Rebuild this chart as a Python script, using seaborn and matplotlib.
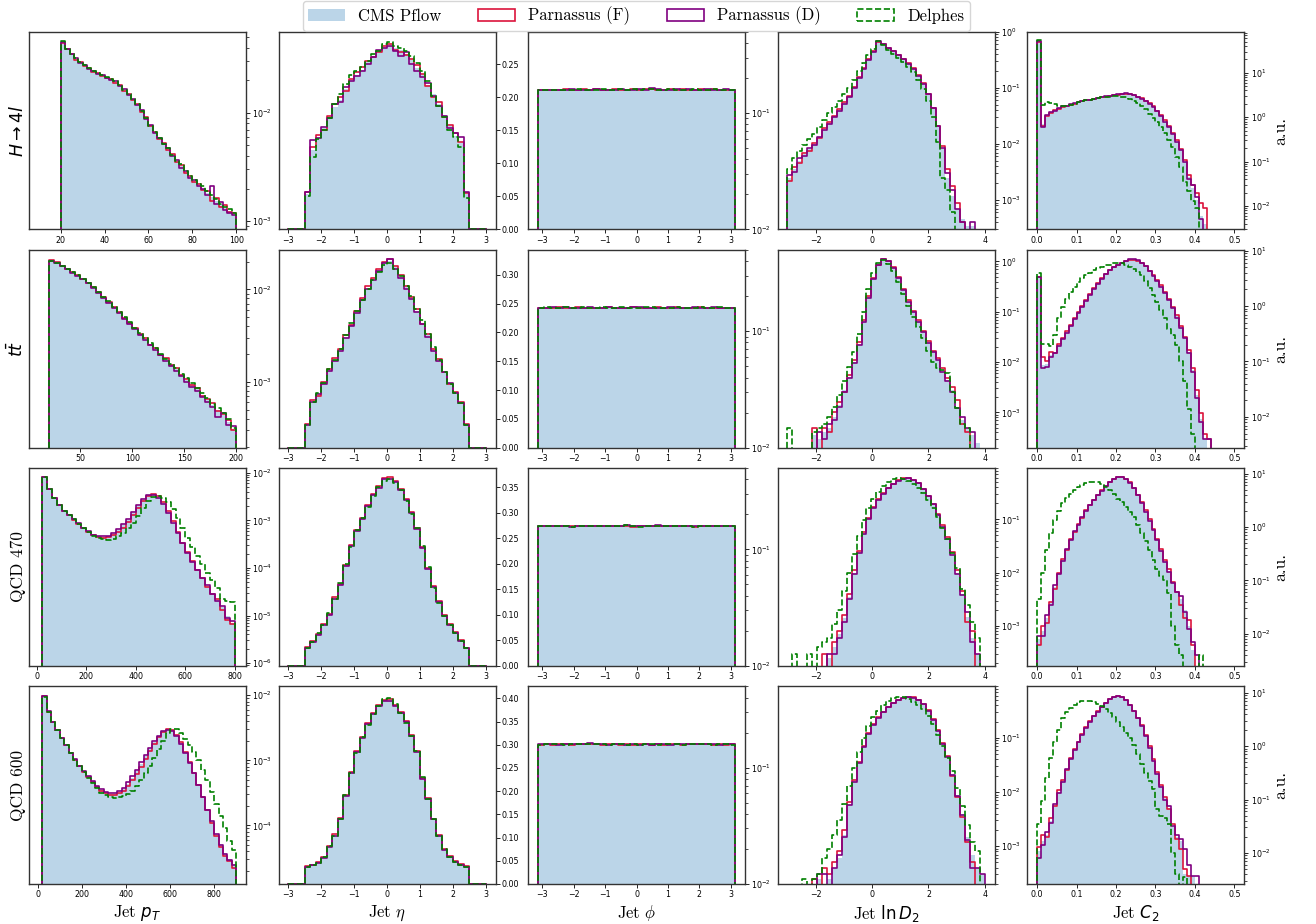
import numpy as np
import matplotlib
matplotlib.use("Agg")
import matplotlib.pyplot as plt
import seaborn as sns
from matplotlib.patches import Patch

# ---------------- data (bin heights) ----------------
samples = ["h4l", "ttbar", "qcd470", "qcd600"]
row_labels = [r"$H \to 4l$", r"$t\bar{t}$", "QCD 470", "QCD 600"]
legend_labels = ["CMS Pflow", "Parnassus (F)", "Parnassus (D)", "Delphes"]

# jet pT
pt_bin_start = [20, 20, 20, 20]
pt_bin_width = [2, 5, 20, 20]

pt_h4l_cms = [4.5e-2, 3.9e-2, 3.45e-2, 3.15e-2, 2.92e-2, 2.75e-2, 2.6e-2, 2.45e-2, 2.33e-2, 2.22e-2,
              2.12e-2, 2.03e-2, 1.93e-2, 1.8e-2, 1.63e-2, 1.47e-2, 1.33e-2, 1.18e-2, 1.03e-2, 8.9e-3,
              7.6e-3, 6.6e-3, 5.8e-3, 5.2e-3, 4.6e-3, 4.1e-3, 3.6e-3, 3.2e-3, 2.85e-3, 2.55e-3,
              2.35e-3, 2.15e-3, 1.98e-3, 1.82e-3, 1.67e-3, 1.54e-3, 1.43e-3, 1.33e-3, 1.25e-3, 1.17e-3]
pt_h4l_parF = [4.4e-2, 3.9e-2, 3.5e-2, 3.1e-2, 2.95e-2, 2.7e-2, 2.6e-2, 2.4e-2, 2.35e-2, 2.2e-2,
               2.1e-2, 2.05e-2, 1.9e-2, 1.82e-2, 1.6e-2, 1.5e-2, 1.3e-2, 1.2e-2, 1.02e-2, 9.1e-3,
               7.5e-3, 6.7e-3, 5.7e-3, 5.3e-3, 4.5e-3, 4.2e-3, 3.5e-3, 3.3e-3, 2.8e-3, 2.6e-3,
               2.3e-3, 2.2e-3, 1.95e-3, 1.9e-3, 1.55e-3, 1.62e-3, 1.35e-3, 1.4e-3, 1.22e-3, 1.2e-3]
pt_h4l_parD = [4.5e-2, 3.85e-2, 3.45e-2, 3.2e-2, 2.9e-2, 2.75e-2, 2.55e-2, 2.45e-2, 2.3e-2, 2.25e-2,
               2.1e-2, 2.0e-2, 1.95e-2, 1.78e-2, 1.65e-2, 1.45e-2, 1.35e-2, 1.17e-2, 1.05e-2, 8.7e-3,
               7.7e-3, 6.5e-3, 5.9e-3, 5.1e-3, 4.7e-3, 4.0e-3, 3.7e-3, 3.1e-3, 2.9e-3, 2.5e-3,
               2.4e-3, 2.1e-3, 2.0e-3, 1.75e-3, 2.1e-3, 1.45e-3, 1.5e-3, 1.28e-3, 1.2e-3, 1.15e-3]
pt_h4l_delphes = [4.6e-2, 3.9e-2, 3.45e-2, 3.2e-2, 2.95e-2, 2.75e-2, 2.6e-2, 2.45e-2, 2.35e-2, 2.22e-2,
                  2.12e-2, 2.03e-2, 1.95e-2, 1.82e-2, 1.63e-2, 1.48e-2, 1.33e-2, 1.2e-2, 1.04e-2, 9.0e-3,
                  7.6e-3, 6.7e-3, 5.9e-3, 5.2e-3, 4.7e-3, 4.1e-3, 3.6e-3, 3.35e-3, 2.9e-3, 2.6e-3,
                  2.4e-3, 2.2e-3, 2.1e-3, 1.9e-3, 1.75e-3, 1.6e-3, 1.45e-3, 1.35e-3, 1.3e-3, 1.2e-3]

pt_ttbar_cms = [2.05e-2, 1.95e-2, 1.8e-2, 1.66e-2, 1.53e-2, 1.42e-2, 1.3e-2, 1.17e-2, 1.05e-2, 9.3e-3,
                8.2e-3, 7.3e-3, 6.4e-3, 5.6e-3, 4.9e-3, 4.3e-3, 3.75e-3, 3.3e-3, 2.9e-3, 2.55e-3,
                2.25e-3, 1.98e-3, 1.75e-3, 1.55e-3, 1.37e-3, 1.2e-3, 1.06e-3, 9.4e-4, 8.3e-4, 7.3e-4,
                6.4e-4, 5.6e-4, 5.0e-4, 4.4e-4, 3.7e-4, 3.1e-4]
pt_ttbar_parF = [2.07e-2, 1.96e-2, 1.81e-2, 1.67e-2, 1.54e-2, 1.42e-2, 1.31e-2, 1.18e-2, 1.06e-2, 9.4e-3,
                 8.3e-3, 7.3e-3, 6.5e-3, 5.7e-3, 4.9e-3, 4.3e-3, 3.8e-3, 3.3e-3, 2.95e-3, 2.5e-3,
                 2.3e-3, 1.95e-3, 1.8e-3, 1.52e-3, 1.4e-3, 1.18e-3, 1.08e-3, 9.2e-4, 8.5e-4, 7.0e-4,
                 6.6e-4, 5.9e-4, 4.8e-4, 4.5e-4, 3.9e-4, 3.0e-4]
pt_ttbar_parD = [2.04e-2, 1.94e-2, 1.8e-2, 1.65e-2, 1.52e-2, 1.41e-2, 1.29e-2, 1.16e-2, 1.04e-2, 9.2e-3,
                 8.1e-3, 7.2e-3, 6.3e-3, 5.5e-3, 4.8e-3, 4.2e-3, 3.7e-3, 3.25e-3, 2.85e-3, 2.5e-3,
                 2.2e-3, 1.95e-3, 1.7e-3, 1.5e-3, 1.3e-3, 1.15e-3, 1.0e-3, 8.8e-4, 8.0e-4, 6.8e-4,
                 6.0e-4, 5.3e-4, 4.2e-4, 4.6e-4, 3.4e-4, 3.3e-4]
pt_ttbar_delphes = [2.03e-2, 1.95e-2, 1.81e-2, 1.67e-2, 1.54e-2, 1.43e-2, 1.31e-2, 1.18e-2, 1.06e-2, 9.4e-3,
                    8.3e-3, 7.4e-3, 6.5e-3, 5.7e-3, 5.0e-3, 4.4e-3, 3.8e-3, 3.35e-3, 2.95e-3, 2.6e-3,
                    2.3e-3, 2.0e-3, 1.78e-3, 1.58e-3, 1.4e-3, 1.23e-3, 1.1e-3, 9.7e-4, 8.5e-4, 7.6e-4,
                    6.7e-4, 5.8e-4, 5.2e-4, 4.6e-4, 4.0e-4, 3.2e-4]

pt_qcd470_cms = [8.0e-3, 4.6e-3, 2.9e-3, 2.05e-3, 1.6e-3, 1.3e-3, 1.05e-3, 8.5e-4, 6.9e-4, 5.8e-4,
                 4.9e-4, 4.5e-4, 4.4e-4, 4.6e-4, 5.2e-4, 6.2e-4, 7.8e-4, 1.02e-3, 1.4e-3, 2.0e-3,
                 2.7e-3, 3.3e-3, 3.5e-3, 3.1e-3, 2.3e-3, 1.5e-3, 9.0e-4, 5.5e-4, 3.4e-4, 2.2e-4,
                 1.4e-4, 9.5e-5, 6.2e-5, 4.2e-5, 3.0e-5, 2.1e-5, 1.5e-5, 1.0e-5, 7.0e-6]
pt_qcd470_parF = [8.1e-3, 4.6e-3, 2.9e-3, 2.05e-3, 1.6e-3, 1.3e-3, 1.04e-3, 8.5e-4, 6.9e-4, 5.8e-4,
                  4.9e-4, 4.4e-4, 4.3e-4, 4.5e-4, 4.9e-4, 5.7e-4, 7.0e-4, 9.2e-4, 1.28e-3, 1.85e-3,
                  2.55e-3, 3.2e-3, 3.55e-3, 3.2e-3, 2.4e-3, 1.6e-3, 9.5e-4, 5.6e-4, 3.4e-4, 2.2e-4,
                  1.4e-4, 9.0e-5, 6.0e-5, 4.0e-5, 2.8e-5, 2.2e-5, 1.3e-5, 8.0e-6, 6.5e-6]
pt_qcd470_parD = [8.2e-3, 4.6e-3, 2.9e-3, 2.05e-3, 1.6e-3, 1.3e-3, 1.05e-3, 8.6e-4, 7.0e-4, 5.9e-4,
                  5.0e-4, 4.6e-4, 4.6e-4, 4.8e-4, 5.4e-4, 6.5e-4, 8.2e-4, 1.08e-3, 1.5e-3, 2.1e-3,
                  2.8e-3, 3.35e-3, 3.45e-3, 3.0e-3, 2.2e-3, 1.45e-3, 8.8e-4, 5.4e-4, 3.3e-4, 2.1e-4,
                  1.35e-4, 9.0e-5, 6.0e-5, 4.3e-5, 2.9e-5, 2.0e-5, 1.6e-5, 9.0e-6, 7.5e-6]
pt_qcd470_delphes = [8.0e-3, 4.6e-3, 2.9e-3, 2.05e-3, 1.6e-3, 1.3e-3, 1.05e-3, 8.5e-4, 6.9e-4, 5.7e-4,
                     4.8e-4, 4.3e-4, 4.0e-4, 3.9e-4, 4.1e-4, 4.6e-4, 5.5e-4, 6.9e-4, 9.0e-4, 1.25e-3,
                     1.8e-3, 2.5e-3, 3.1e-3, 3.3e-3, 3.0e-3, 2.4e-3, 1.7e-3, 1.1e-3, 6.8e-4, 4.3e-4,
                     2.8e-4, 1.8e-4, 1.2e-4, 7.8e-5, 5.5e-5, 3.8e-5, 2.2e-5, 2.0e-5, 1.9e-5]

pt_qcd600_cms = [9.5e-3, 5.6e-3, 3.9e-3, 2.9e-3, 2.2e-3, 1.7e-3, 1.3e-3, 1.02e-3, 8.2e-4, 6.7e-4,
                 5.6e-4, 4.7e-4, 4.0e-4, 3.5e-4, 3.2e-4, 3.05e-4, 3.0e-4, 3.2e-4, 3.6e-4, 4.3e-4,
                 5.3e-4, 6.8e-4, 8.8e-4, 1.15e-3, 1.5e-3, 1.9e-3, 2.35e-3, 2.75e-3, 3.0e-3, 2.85e-3,
                 2.4e-3, 1.85e-3, 1.35e-3, 9.5e-4, 6.5e-4, 4.3e-4, 2.8e-4, 1.8e-4, 1.15e-4, 7.5e-5,
                 5.2e-5, 3.8e-5, 3.0e-5, 2.6e-5]
pt_qcd600_parF = [9.6e-3, 5.6e-3, 3.9e-3, 2.9e-3, 2.2e-3, 1.7e-3, 1.3e-3, 1.02e-3, 8.3e-4, 6.7e-4,
                  5.5e-4, 4.6e-4, 3.9e-4, 3.4e-4, 3.1e-4, 2.95e-4, 2.95e-4, 3.1e-4, 3.4e-4, 4.0e-4,
                  4.9e-4, 6.2e-4, 8.0e-4, 1.05e-3, 1.4e-3, 1.8e-3, 2.3e-3, 2.75e-3, 3.05e-3, 2.9e-3,
                  2.45e-3, 1.9e-3, 1.35e-3, 9.5e-4, 6.4e-4, 4.2e-4, 2.7e-4, 1.7e-4, 1.1e-4, 7.0e-5,
                  4.6e-5, 3.4e-5, 2.8e-5, 2.2e-5]
pt_qcd600_parD = [9.7e-3, 5.7e-3, 3.9e-3, 2.9e-3, 2.2e-3, 1.7e-3, 1.3e-3, 1.03e-3, 8.3e-4, 6.8e-4,
                  5.7e-4, 4.8e-4, 4.1e-4, 3.6e-4, 3.3e-4, 3.2e-4, 3.2e-4, 3.4e-4, 3.8e-4, 4.6e-4,
                  5.7e-4, 7.2e-4, 9.3e-4, 1.2e-3, 1.55e-3, 1.95e-3, 2.4e-3, 2.8e-3, 2.95e-3, 2.8e-3,
                  2.35e-3, 1.8e-3, 1.3e-3, 9.2e-4, 6.3e-4, 4.2e-4, 2.75e-4, 1.75e-4, 1.15e-4, 7.5e-5,
                  5.0e-5, 3.6e-5, 2.9e-5, 2.5e-5]
pt_qcd600_delphes = [9.5e-3, 5.6e-3, 3.9e-3, 2.9e-3, 2.2e-3, 1.7e-3, 1.3e-3, 1.02e-3, 8.2e-4, 6.6e-4,
                     5.4e-4, 4.5e-4, 3.8e-4, 3.2e-4, 2.9e-4, 2.7e-4, 2.65e-4, 2.7e-4, 2.8e-4, 3.0e-4,
                     3.4e-4, 4.0e-4, 4.9e-4, 6.3e-4, 8.3e-4, 1.1e-3, 1.5e-3, 2.0e-3, 2.6e-3, 3.0e-3,
                     3.05e-3, 2.6e-3, 2.1e-3, 1.7e-3, 1.35e-3, 1.0e-3, 7.2e-4, 5.0e-4, 3.3e-4, 2.1e-4,
                     1.4e-4, 9.0e-5, 5.8e-5, 4.2e-5]

# jet eta (bins of 1/6 from -3 to 3)
eta_bin_start = -3.0
eta_bin_width = 1.0 / 6.0

eta_h4l_cms = [0, 0, 0, 0.054, 0.12, 0.14, 0.153, 0.17, 0.185, 0.196, 0.213, 0.226, 0.234, 0.241, 0.253,
               0.262, 0.27, 0.276, 0.278, 0.274, 0.271, 0.266, 0.256, 0.244, 0.233, 0.219, 0.204, 0.19,
               0.173, 0.156, 0.141, 0.13, 0.054, 0, 0, 0]
eta_h4l_parF = [0, 0, 0, 0.056, 0.125, 0.142, 0.15, 0.172, 0.19, 0.2, 0.21, 0.228, 0.238, 0.245, 0.255,
                0.26, 0.268, 0.278, 0.28, 0.272, 0.268, 0.264, 0.258, 0.248, 0.235, 0.217, 0.2, 0.192,
                0.17, 0.158, 0.145, 0.132, 0.055, 0, 0, 0]
eta_h4l_parD = [0, 0, 0, 0.057, 0.135, 0.138, 0.155, 0.168, 0.19, 0.193, 0.215, 0.224, 0.232, 0.24, 0.25,
                0.26, 0.272, 0.274, 0.277, 0.27, 0.262, 0.268, 0.25, 0.24, 0.23, 0.222, 0.202, 0.186,
                0.172, 0.153, 0.145, 0.14, 0.056, 0, 0, 0]
eta_h4l_delphes = [0, 0, 0, 0.05, 0.11, 0.137, 0.15, 0.168, 0.19, 0.205, 0.22, 0.233, 0.24, 0.245, 0.255,
                   0.265, 0.27, 0.28, 0.283, 0.278, 0.275, 0.27, 0.262, 0.252, 0.24, 0.225, 0.202, 0.186,
                   0.17, 0.15, 0.14, 0.124, 0.048, 0, 0, 0]

eta_ttbar_cms = [0, 0, 0, 0.04, 0.08, 0.092, 0.112, 0.135, 0.153, 0.17, 0.193, 0.214, 0.236, 0.258, 0.278,
                 0.293, 0.308, 0.323, 0.325, 0.313, 0.296, 0.279, 0.26, 0.238, 0.216, 0.195, 0.17, 0.152,
                 0.13, 0.112, 0.095, 0.078, 0.04, 0, 0, 0]
eta_ttbar_parF = [0, 0, 0, 0.041, 0.082, 0.09, 0.114, 0.136, 0.155, 0.172, 0.195, 0.213, 0.238, 0.26, 0.28,
                  0.295, 0.31, 0.322, 0.327, 0.316, 0.3, 0.281, 0.262, 0.24, 0.215, 0.197, 0.172, 0.154,
                  0.131, 0.11, 0.096, 0.08, 0.041, 0, 0, 0]
eta_ttbar_parD = [0, 0, 0, 0.039, 0.079, 0.093, 0.11, 0.133, 0.151, 0.168, 0.19, 0.212, 0.234, 0.256, 0.276,
                  0.292, 0.306, 0.32, 0.328, 0.311, 0.294, 0.276, 0.258, 0.235, 0.214, 0.193, 0.168, 0.15,
                  0.132, 0.113, 0.094, 0.077, 0.039, 0, 0, 0]
eta_ttbar_delphes = [0, 0, 0, 0.04, 0.08, 0.094, 0.113, 0.137, 0.152, 0.172, 0.196, 0.216, 0.238, 0.256,
                     0.276, 0.292, 0.305, 0.318, 0.32, 0.31, 0.298, 0.28, 0.264, 0.24, 0.222, 0.197, 0.174,
                     0.153, 0.131, 0.11, 0.094, 0.078, 0.04, 0, 0, 0]

eta_qcd470_cms = [0, 0, 0, 0.035, 0.048, 0.062, 0.08, 0.1, 0.132, 0.16, 0.196, 0.235, 0.265, 0.288, 0.313,
                  0.336, 0.35, 0.366, 0.367, 0.36, 0.346, 0.326, 0.3, 0.268, 0.232, 0.19, 0.155, 0.125,
                  0.098, 0.08, 0.065, 0.05, 0.035, 0, 0, 0]
eta_qcd470_parF = [0, 0, 0, 0.036, 0.049, 0.063, 0.082, 0.101, 0.134, 0.161, 0.197, 0.236, 0.266, 0.289,
                   0.314, 0.337, 0.352, 0.367, 0.369, 0.361, 0.347, 0.327, 0.301, 0.269, 0.233, 0.191,
                   0.156, 0.126, 0.099, 0.081, 0.066, 0.051, 0.035, 0, 0, 0]
eta_qcd470_parD = [0, 0, 0, 0.034, 0.047, 0.061, 0.079, 0.099, 0.131, 0.159, 0.195, 0.234, 0.264, 0.287,
                   0.312, 0.335, 0.349, 0.365, 0.366, 0.359, 0.345, 0.325, 0.299, 0.267, 0.231, 0.189,
                   0.154, 0.124, 0.097, 0.079, 0.064, 0.049, 0.034, 0, 0, 0]
eta_qcd470_delphes = [0, 0, 0, 0.035, 0.047, 0.064, 0.079, 0.103, 0.13, 0.162, 0.2, 0.233, 0.266, 0.29,
                      0.31, 0.333, 0.35, 0.362, 0.365, 0.358, 0.345, 0.322, 0.298, 0.27, 0.235, 0.193,
                      0.153, 0.123, 0.097, 0.079, 0.064, 0.049, 0.034, 0, 0, 0]

eta_qcd600_cms = [0, 0, 0, 0.038, 0.041, 0.047, 0.058, 0.08, 0.105, 0.14, 0.19, 0.24, 0.285, 0.315, 0.345,
                  0.368, 0.385, 0.396, 0.396, 0.385, 0.37, 0.35, 0.32, 0.285, 0.228, 0.185, 0.14, 0.105,
                  0.075, 0.059, 0.048, 0.042, 0.038, 0, 0, 0]
eta_qcd600_parF = [0, 0, 0, 0.039, 0.042, 0.048, 0.059, 0.081, 0.107, 0.142, 0.191, 0.241, 0.286, 0.316,
                   0.346, 0.369, 0.386, 0.397, 0.398, 0.386, 0.371, 0.351, 0.321, 0.286, 0.229, 0.186,
                   0.141, 0.106, 0.076, 0.06, 0.049, 0.043, 0.039, 0, 0, 0]
eta_qcd600_parD = [0, 0, 0, 0.037, 0.04, 0.046, 0.057, 0.079, 0.104, 0.139, 0.189, 0.239, 0.284, 0.314,
                   0.344, 0.367, 0.384, 0.395, 0.395, 0.384, 0.369, 0.349, 0.319, 0.284, 0.227, 0.184,
                   0.139, 0.104, 0.074, 0.058, 0.047, 0.041, 0.037, 0, 0, 0]
eta_qcd600_delphes = [0, 0, 0, 0.037, 0.04, 0.046, 0.058, 0.081, 0.104, 0.14, 0.192, 0.24, 0.283, 0.316,
                      0.343, 0.366, 0.384, 0.398, 0.4, 0.387, 0.368, 0.348, 0.318, 0.286, 0.23, 0.184,
                      0.14, 0.104, 0.075, 0.058, 0.047, 0.041, 0.037, 0, 0, 0]

# jet phi (32 bins over -pi..pi)
phi_bin_start = -np.pi
phi_bin_width = 2 * np.pi / 32

phi_h4l_cms = [0.157, 0.158, 0.158, 0.159, 0.158, 0.159, 0.159, 0.158, 0.16, 0.159, 0.159, 0.16, 0.158,
               0.159, 0.16, 0.159, 0.16, 0.159, 0.161, 0.159, 0.16, 0.158, 0.16, 0.159, 0.159, 0.158,
               0.159, 0.16, 0.158, 0.159, 0.158, 0.158]
phi_h4l_parF = [0.158, 0.157, 0.159, 0.158, 0.16, 0.158, 0.159, 0.16, 0.158, 0.16, 0.159, 0.158, 0.16,
                0.159, 0.158, 0.16, 0.159, 0.16, 0.162, 0.158, 0.159, 0.16, 0.158, 0.16, 0.159, 0.157,
                0.16, 0.159, 0.16, 0.158, 0.159, 0.158]
phi_h4l_parD = [0.157, 0.159, 0.158, 0.158, 0.159, 0.16, 0.158, 0.159, 0.159, 0.161, 0.158, 0.159, 0.159,
                0.16, 0.159, 0.158, 0.16, 0.159, 0.163, 0.16, 0.159, 0.159, 0.16, 0.158, 0.16, 0.159,
                0.158, 0.16, 0.159, 0.157, 0.16, 0.158]
phi_h4l_delphes = [0.158, 0.158, 0.159, 0.157, 0.159, 0.158, 0.16, 0.159, 0.158, 0.159, 0.16, 0.159,
                   0.158, 0.16, 0.159, 0.16, 0.158, 0.16, 0.16, 0.159, 0.158, 0.16, 0.159, 0.159, 0.158,
                   0.16, 0.159, 0.158, 0.16, 0.159, 0.158, 0.157]

phi_ttbar_cms = [0.159, 0.158, 0.16, 0.159, 0.159, 0.158, 0.159, 0.16, 0.159, 0.158, 0.159, 0.159, 0.16,
                 0.159, 0.158, 0.159, 0.159, 0.16, 0.159, 0.159, 0.158, 0.16, 0.159, 0.159, 0.158, 0.159,
                 0.159, 0.158, 0.159, 0.159, 0.158, 0.158]
phi_ttbar_parF = [0.158, 0.159, 0.159, 0.16, 0.158, 0.159, 0.16, 0.158, 0.159, 0.159, 0.158, 0.16, 0.159,
                  0.158, 0.159, 0.16, 0.159, 0.159, 0.158, 0.16, 0.159, 0.158, 0.16, 0.159, 0.159, 0.158,
                  0.16, 0.159, 0.158, 0.159, 0.159, 0.157]
phi_ttbar_parD = [0.159, 0.159, 0.161, 0.159, 0.16, 0.158, 0.159, 0.159, 0.16, 0.158, 0.159, 0.16, 0.159,
                  0.159, 0.158, 0.16, 0.16, 0.159, 0.159, 0.158, 0.159, 0.16, 0.159, 0.158, 0.159, 0.16,
                  0.158, 0.159, 0.16, 0.159, 0.158, 0.158]
phi_ttbar_delphes = [0.158, 0.16, 0.159, 0.159, 0.16, 0.159, 0.158, 0.16, 0.159, 0.159, 0.16, 0.158,
                     0.159, 0.16, 0.159, 0.158, 0.159, 0.16, 0.16, 0.159, 0.158, 0.159, 0.16, 0.159,
                     0.158, 0.157, 0.16, 0.159, 0.159, 0.16, 0.159, 0.159]

phi_qcd470_cms = [0.158, 0.159, 0.159, 0.16, 0.159, 0.157, 0.158, 0.159, 0.158, 0.159, 0.158, 0.159, 0.16,
                  0.159, 0.161, 0.158, 0.157, 0.159, 0.159, 0.16, 0.161, 0.158, 0.158, 0.159, 0.159, 0.158,
                  0.16, 0.159, 0.158, 0.16, 0.159, 0.158]
phi_qcd470_parF = [0.158, 0.16, 0.159, 0.159, 0.158, 0.158, 0.159, 0.158, 0.159, 0.16, 0.158, 0.16, 0.159,
                   0.16, 0.16, 0.157, 0.158, 0.159, 0.16, 0.159, 0.16, 0.158, 0.159, 0.159, 0.158, 0.157,
                   0.16, 0.16, 0.159, 0.159, 0.16, 0.158]
phi_qcd470_parD = [0.159, 0.159, 0.16, 0.159, 0.158, 0.157, 0.159, 0.159, 0.159, 0.158, 0.159, 0.16, 0.159,
                   0.16, 0.162, 0.158, 0.158, 0.16, 0.159, 0.161, 0.16, 0.158, 0.159, 0.16, 0.159, 0.158,
                   0.159, 0.16, 0.159, 0.16, 0.158, 0.159]
phi_qcd470_delphes = [0.158, 0.159, 0.16, 0.16, 0.158, 0.157, 0.158, 0.16, 0.159, 0.159, 0.158, 0.16,
                      0.159, 0.16, 0.161, 0.159, 0.157, 0.159, 0.16, 0.16, 0.16, 0.158, 0.158, 0.16,
                      0.158, 0.157, 0.159, 0.16, 0.159, 0.16, 0.159, 0.158]

phi_qcd600_cms = [0.159, 0.158, 0.159, 0.159, 0.158, 0.159, 0.16, 0.159, 0.161, 0.16, 0.159, 0.159, 0.158,
                  0.159, 0.158, 0.159, 0.159, 0.158, 0.159, 0.158, 0.159, 0.159, 0.158, 0.159, 0.16, 0.16,
                  0.159, 0.16, 0.159, 0.158, 0.159, 0.158]
phi_qcd600_parF = [0.158, 0.159, 0.158, 0.159, 0.159, 0.158, 0.159, 0.16, 0.16, 0.16, 0.158, 0.159, 0.159,
                   0.158, 0.159, 0.158, 0.16, 0.159, 0.158, 0.159, 0.158, 0.16, 0.159, 0.158, 0.159, 0.161,
                   0.16, 0.159, 0.158, 0.159, 0.158, 0.159]
phi_qcd600_parD = [0.159, 0.159, 0.159, 0.158, 0.159, 0.16, 0.159, 0.16, 0.162, 0.159, 0.16, 0.158, 0.159,
                   0.159, 0.158, 0.16, 0.158, 0.159, 0.158, 0.159, 0.16, 0.158, 0.159, 0.16, 0.159, 0.16,
                   0.16, 0.159, 0.16, 0.158, 0.159, 0.159]
phi_qcd600_delphes = [0.158, 0.159, 0.16, 0.159, 0.158, 0.159, 0.159, 0.16, 0.161, 0.161, 0.159, 0.158,
                      0.159, 0.16, 0.158, 0.159, 0.158, 0.16, 0.159, 0.158, 0.159, 0.159, 0.16, 0.158,
                      0.16, 0.161, 0.16, 0.159, 0.158, 0.159, 0.159, 0.158]

# jet ln D2 (bins of 0.175 from -3 to 4)
lnd2_bin_start = -3.0
lnd2_bin_width = 0.175

lnd2_h4l_cms = [2.5e-3, 3.5e-3, 5.0e-3, 6.5e-3, 8.0e-3, 1.0e-2, 1.3e-2, 1.8e-2, 2.4e-2, 3.1e-2,
                4.0e-2, 5.3e-2, 7.0e-2, 0.1, 0.15, 0.22, 0.32, 0.45, 0.67, 0.6,
                0.51, 0.44, 0.37, 0.32, 0.27, 0.22, 0.165, 0.115, 0.075, 0.042,
                0.02, 8e-3, 2.5e-3, 1.2e-3, 7e-4, 4.5e-4, 3.5e-4, 3.5e-4, 0, 0]
lnd2_h4l_parF = [2.2e-3, 3.8e-3, 4.6e-3, 7.0e-3, 7.5e-3, 1.05e-2, 1.25e-2, 1.9e-2, 2.5e-2, 3.2e-2,
                 4.2e-2, 5.5e-2, 7.2e-2, 0.105, 0.155, 0.225, 0.33, 0.46, 0.66, 0.6,
                 0.52, 0.45, 0.38, 0.33, 0.28, 0.225, 0.17, 0.12, 0.078, 0.044,
                 0.021, 9e-3, 3.5e-3, 1.8e-3, 9e-4, 4e-4, 0, 0, 0, 0]
lnd2_h4l_parD = [2.8e-3, 3.2e-3, 5.5e-3, 6.0e-3, 8.5e-3, 9.5e-3, 1.35e-2, 1.75e-2, 2.3e-2, 3.0e-2,
                 3.9e-2, 5.2e-2, 6.9e-2, 0.098, 0.148, 0.215, 0.315, 0.44, 0.68, 0.61,
                 0.52, 0.45, 0.38, 0.33, 0.27, 0.22, 0.165, 0.115, 0.076, 0.043,
                 0.021, 8.5e-3, 3.0e-3, 1.5e-3, 7e-4, 4e-4, 0, 4e-4, 0, 0]
lnd2_h4l_delphes = [3.5e-3, 5.5e-3, 7.5e-3, 9.5e-3, 1.2e-2, 1.5e-2, 2.0e-2, 2.7e-2, 3.6e-2, 4.6e-2,
                    5.8e-2, 7.7e-2, 0.1, 0.14, 0.2, 0.28, 0.38, 0.5, 0.68, 0.58,
                    0.48, 0.4, 0.34, 0.285, 0.235, 0.19, 0.14, 0.095, 0.058, 0.03,
                    0.011, 2.5e-3, 1.5e-3, 6e-4, 0, 0, 0, 0, 0, 0]

lnd2_ttbar_cms = [0, 0, 0, 0, 0, 3.5e-4, 3e-4, 4e-4, 5e-4, 8e-4,
                  1.4e-3, 2.8e-3, 5.0e-3, 1.0e-2, 2.3e-2, 6.5e-2, 0.2, 0.45, 0.85, 1.1,
                  1.0, 0.75, 0.48, 0.28, 0.16, 0.1, 0.065, 0.04, 0.025, 0.016,
                  0.011, 7e-3, 4.5e-3, 2.8e-3, 1.3e-3, 7e-4, 5e-4, 3.5e-4, 2.5e-4, 0]
lnd2_ttbar_parF = [0, 0, 0, 0, 0, 5e-4, 0, 5e-4, 4e-4, 1.0e-3,
                   1.6e-3, 2.6e-3, 5.5e-3, 1.1e-2, 2.5e-2, 7e-2, 0.21, 0.46, 0.86, 1.1,
                   1.0, 0.76, 0.49, 0.29, 0.17, 0.105, 0.068, 0.042, 0.026, 0.017,
                   0.012, 7.5e-3, 4.8e-3, 3.2e-3, 1.8e-3, 6e-4, 4e-4, 0, 0, 0]
lnd2_ttbar_parD = [0, 0, 0, 0, 0, 0, 4e-4, 3e-4, 6e-4, 7e-4,
                   1.3e-3, 2.5e-3, 4.8e-3, 9.5e-3, 2.2e-2, 6.3e-2, 0.19, 0.44, 0.84, 1.1,
                   1.0, 0.74, 0.47, 0.27, 0.155, 0.098, 0.063, 0.039, 0.024, 0.016,
                   0.011, 6.5e-3, 4.2e-3, 2.6e-3, 1.2e-3, 8e-4, 5e-4, 4e-4, 0, 0]
lnd2_ttbar_delphes = [5e-4, 0, 0, 0, 0, 4e-4, 5e-4, 6e-4, 8e-4, 1.3e-3,
                      2.2e-3, 4.3e-3, 8e-3, 1.6e-2, 3.6e-2, 0.1, 0.28, 0.58, 0.95, 1.05,
                      0.9, 0.65, 0.4, 0.23, 0.13, 0.08, 0.05, 0.03, 0.017, 0.01,
                      7.5e-3, 7e-3, 6e-3, 2.5e-3, 1.2e-3, 6e-4, 5e-4, 0, 0, 0]

lnd2_qcd470_cms = [0, 0, 0, 0, 0, 0, 0, 0, 2.5e-4, 4e-4,
                   7e-4, 1.4e-3, 3.5e-3, 1.0e-2, 2.4e-2, 5.5e-2, 0.105, 0.165, 0.23, 0.3,
                   0.38, 0.46, 0.53, 0.58, 0.59, 0.55, 0.47, 0.37, 0.27, 0.19,
                   0.12, 0.075, 0.045, 0.022, 0.01, 4e-3, 1.5e-3, 6e-4, 3e-4, 0]
lnd2_qcd470_parF = [0, 0, 0, 0, 0, 0, 0, 3e-4, 0, 5e-4,
                    8e-4, 1.6e-3, 4e-3, 1.1e-2, 2.5e-2, 5.7e-2, 0.108, 0.168, 0.235, 0.305,
                    0.385, 0.465, 0.535, 0.585, 0.595, 0.555, 0.475, 0.375, 0.275, 0.195,
                    0.125, 0.078, 0.047, 0.024, 0.011, 4.5e-3, 1.2e-3, 8e-4, 0, 0]
lnd2_qcd470_parD = [0, 0, 0, 0, 0, 0, 0, 0, 3e-4, 3e-4,
                    6e-4, 1.2e-3, 3.2e-3, 9.5e-3, 2.3e-2, 5.3e-2, 0.102, 0.162, 0.228, 0.298,
                    0.378, 0.458, 0.528, 0.578, 0.59, 0.552, 0.472, 0.372, 0.272, 0.19,
                    0.12, 0.073, 0.043, 0.021, 9.5e-3, 3.8e-3, 1.8e-3, 5e-4, 3e-4, 0]
lnd2_qcd470_delphes = [0, 3e-4, 0, 0, 3e-4, 0, 4e-4, 5e-4, 6e-4, 1.1e-3,
                       2e-3, 4.5e-3, 1.0e-2, 2.2e-2, 4.8e-2, 0.095, 0.16, 0.24, 0.33, 0.42,
                       0.5, 0.57, 0.6, 0.57, 0.52, 0.46, 0.39, 0.31, 0.23, 0.16,
                       0.11, 0.07, 0.042, 0.023, 0.012, 5e-3, 2.5e-3, 1.2e-3, 6e-4, 0]

lnd2_qcd600_cms = [0, 0, 0, 0, 0, 0, 2.5e-4, 0, 2.5e-4, 4e-4,
                   6e-4, 1.6e-3, 6e-3, 1.6e-2, 3.5e-2, 7e-2, 0.12, 0.175, 0.24, 0.3,
                   0.37, 0.44, 0.5, 0.55, 0.575, 0.56, 0.5, 0.42, 0.32, 0.22,
                   0.135, 0.08, 0.045, 0.022, 9e-3, 4e-3, 1.5e-3, 7e-4, 4e-4, 3e-4]
lnd2_qcd600_parF = [0, 0, 0, 0, 0, 2.5e-4, 0, 4e-4, 3e-4, 5e-4,
                    8e-4, 2e-3, 6.5e-3, 1.7e-2, 3.6e-2, 7.2e-2, 0.122, 0.178, 0.243, 0.303,
                    0.373, 0.443, 0.503, 0.553, 0.578, 0.563, 0.503, 0.423, 0.323, 0.223,
                    0.138, 0.082, 0.046, 0.02, 8e-3, 3.5e-3, 1.2e-3, 5e-4, 0, 0]
lnd2_qcd600_parD = [0, 0, 0, 0, 0, 0, 3e-4, 3e-4, 0, 4e-4,
                    7e-4, 1.5e-3, 5.8e-3, 1.55e-2, 3.4e-2, 6.9e-2, 0.118, 0.173, 0.238, 0.298,
                    0.368, 0.438, 0.498, 0.548, 0.573, 0.558, 0.498, 0.418, 0.318, 0.218,
                    0.133, 0.078, 0.044, 0.021, 8.5e-3, 3.8e-3, 1.3e-3, 4e-4, 4e-4, 3e-4]
lnd2_qcd600_delphes = [0, 0, 0, 2.5e-4, 0, 2.5e-4, 3e-4, 6e-4, 9e-4, 1.6e-3,
                       3e-3, 6e-3, 1.3e-2, 2.8e-2, 5.5e-2, 0.1, 0.165, 0.24, 0.32, 0.4,
                       0.48, 0.55, 0.58, 0.56, 0.52, 0.47, 0.41, 0.34, 0.26, 0.18,
                       0.115, 0.07, 0.042, 0.024, 0.012, 5.5e-3, 2.5e-3, 1.2e-3, 8e-4, 0]

# jet C2 (bins of 0.01 from 0 to 0.5)
c2_bin_start = 0.0
c2_bin_width = 0.01

c2_h4l_cms = [50, 0.7, 1.1, 1.3, 1.45, 1.6, 1.7, 1.8, 1.9, 2.05,
              2.2, 2.3, 2.4, 2.5, 2.6, 2.7, 2.8, 2.95, 3.05, 3.1,
              3.2, 3.35, 3.4, 3.3, 3.1, 2.9, 2.6, 2.3, 2.0, 1.7,
              1.35, 1.05, 0.8, 0.6, 0.42, 0.28, 0.18, 0.1, 0.045, 0.025,
              0.014, 0.006, 0.004, 0, 0, 0, 0, 0, 0, 0]
c2_h4l_parF = [48, 0.65, 1.05, 1.25, 1.45, 1.55, 1.7, 1.8, 1.9, 2.0,
               2.15, 2.3, 2.4, 2.5, 2.6, 2.7, 2.8, 2.9, 3.0, 3.1,
               3.2, 3.3, 3.35, 3.3, 3.1, 2.9, 2.65, 2.35, 2.05, 1.75,
               1.4, 1.1, 0.85, 0.62, 0.45, 0.3, 0.19, 0.11, 0.05, 0.03,
               0.02, 0.012, 0.009, 0, 0, 0, 0, 0, 0, 0]
c2_h4l_parD = [52, 0.6, 1.1, 1.3, 1.4, 1.6, 1.75, 1.8, 1.95, 2.05,
               2.2, 2.3, 2.45, 2.5, 2.6, 2.75, 2.8, 2.95, 3.05, 3.15,
               3.25, 3.4, 3.45, 3.35, 3.1, 2.85, 2.6, 2.3, 2.0, 1.7,
               1.35, 1.05, 0.8, 0.6, 0.42, 0.28, 0.18, 0.1, 0.04, 0.03,
               0.016, 0.005, 0, 0, 0, 0, 0, 0, 0, 0]
c2_h4l_delphes = [55, 1.9, 2.2, 2.1, 1.95, 1.8, 1.75, 1.8, 1.9, 2.0,
                  2.15, 2.3, 2.4, 2.5, 2.6, 2.7, 2.8, 2.85, 2.9, 2.95,
                  2.95, 2.9, 2.8, 2.6, 2.35, 2.1, 1.8, 1.5, 1.2, 0.95,
                  0.8, 0.6, 0.45, 0.31, 0.21, 0.13, 0.075, 0.035, 0.022, 0.013,
                  0.009, 0, 0, 0, 0, 0, 0, 0, 0, 0]

c2_ttbar_cms = [3.5, 0.085, 0.09, 0.13, 0.15, 0.2, 0.26, 0.34, 0.45, 0.6,
                0.75, 0.97, 1.25, 1.6, 2.05, 2.55, 3.1, 3.8, 4.5, 5.0,
                5.5, 6.0, 6.5, 6.9, 6.9, 6.6, 6.0, 5.2, 4.3, 3.6,
                2.9, 2.3, 1.75, 1.3, 0.95, 0.65, 0.42, 0.27, 0.15, 0.07,
                0.025, 0.009, 0.004, 0, 0, 0, 0, 0, 0, 0]
c2_ttbar_parF = [3.3, 0.12, 0.1, 0.15, 0.14, 0.21, 0.27, 0.35, 0.46, 0.62,
                 0.77, 1.0, 1.28, 1.62, 2.1, 2.6, 3.15, 3.85, 4.5, 5.0,
                 5.5, 6.0, 6.5, 6.9, 6.9, 6.6, 6.05, 5.25, 4.35, 3.65,
                 2.95, 2.35, 1.8, 1.33, 0.98, 0.68, 0.44, 0.28, 0.16, 0.075,
                 0.03, 0.012, 0.005, 0.004, 0, 0, 0, 0, 0, 0]
c2_ttbar_parD = [3.4, 0.076, 0.08, 0.12, 0.14, 0.19, 0.25, 0.33, 0.44, 0.58,
                 0.74, 0.95, 1.23, 1.58, 2.02, 2.52, 3.05, 3.75, 4.45, 5.0,
                 5.5, 6.0, 6.55, 7.0, 7.0, 6.65, 6.0, 5.2, 4.3, 3.55,
                 2.85, 2.25, 1.7, 1.28, 0.92, 0.62, 0.4, 0.26, 0.14, 0.065,
                 0.022, 0.008, 0.004, 0.004, 0, 0, 0, 0, 0, 0]
c2_ttbar_delphes = [3.9, 0.21, 0.21, 0.19, 0.3, 0.6, 0.95, 1.35, 1.8, 2.25,
                    2.7, 3.15, 3.6, 4.0, 4.4, 4.8, 5.1, 5.4, 5.6, 5.9,
                    6.1, 6.0, 5.5, 5.0, 4.6, 4.1, 3.6, 2.8, 2.1, 1.6,
                    1.2, 0.85, 0.6, 0.38, 0.3, 0.2, 0.1, 0.045, 0.014, 0.005,
                    0, 0, 0, 0, 0, 0, 0, 0, 0, 0]

c2_qcd470_cms = [0.008, 0.011, 0.02, 0.038, 0.075, 0.135, 0.24, 0.38, 0.58, 0.82,
                 1.1, 1.5, 2.0, 2.6, 3.2, 3.9, 4.8, 5.8, 6.9, 7.9,
                 8.6, 8.6, 7.9, 6.8, 5.4, 4.0, 2.9, 2.0, 1.35, 0.9,
                 0.58, 0.37, 0.23, 0.15, 0.09, 0.058, 0.045, 0.028, 0.014, 0.005,
                 0, 0, 0, 0, 0, 0, 0, 0, 0, 0]
c2_qcd470_parF = [0.006, 0.014, 0.016, 0.04, 0.07, 0.14, 0.25, 0.37, 0.6, 0.8,
                  1.12, 1.48, 2.05, 2.55, 3.25, 3.9, 4.85, 5.8, 6.95, 7.9,
                  8.65, 8.55, 7.95, 6.85, 5.45, 4.05, 2.95, 2.05, 1.4, 0.93,
                  0.6, 0.39, 0.24, 0.16, 0.095, 0.06, 0.035, 0.02, 0.018, 0.006,
                  0, 0, 0, 0, 0, 0, 0, 0, 0, 0]
c2_qcd470_parD = [0.009, 0.009, 0.022, 0.035, 0.08, 0.13, 0.23, 0.39, 0.56, 0.84,
                  1.08, 1.52, 1.98, 2.62, 3.15, 3.92, 4.78, 5.82, 6.85, 7.95,
                  8.6, 8.65, 7.85, 6.75, 5.35, 3.95, 2.85, 1.95, 1.32, 0.88,
                  0.56, 0.36, 0.22, 0.145, 0.088, 0.06, 0.05, 0.026, 0.012, 0.007,
                  0.004, 0, 0, 0, 0, 0, 0, 0, 0, 0]
c2_qcd470_delphes = [0.044, 0.14, 0.37, 0.77, 1.35, 2.0, 2.8, 3.5, 4.2, 4.9,
                     5.6, 6.2, 6.7, 7.0, 7.1, 6.9, 6.4, 5.7, 4.9, 4.1,
                     3.4, 2.9, 2.4, 1.95, 1.55, 1.1, 0.78, 0.55, 0.37, 0.24,
                     0.16, 0.12, 0.1, 0.058, 0.014, 0.006, 0.004, 0, 0, 0,
                     0, 0.004, 0, 0, 0, 0, 0, 0, 0, 0]

c2_qcd600_cms = [0.011, 0.017, 0.022, 0.039, 0.08, 0.14, 0.22, 0.37, 0.59, 0.85,
                 1.2, 1.65, 2.2, 2.9, 3.7, 4.5, 5.5, 6.5, 7.6, 8.5,
                 8.7, 8.3, 7.3, 6.0, 4.6, 3.4, 2.4, 1.6, 0.95, 0.55,
                 0.31, 0.18, 0.107, 0.07, 0.03, 0.02, 0.017, 0.004, 0.0036, 0.0036,
                 0, 0, 0, 0, 0, 0, 0, 0, 0, 0]
c2_qcd600_parF = [0.013, 0.022, 0.02, 0.045, 0.075, 0.15, 0.23, 0.36, 0.6, 0.87,
                  1.22, 1.68, 2.25, 2.95, 3.75, 4.55, 5.55, 6.55, 7.6, 8.5,
                  8.75, 8.35, 7.35, 6.05, 4.65, 3.45, 2.45, 1.65, 1.0, 0.58,
                  0.33, 0.19, 0.11, 0.065, 0.035, 0.018, 0.012, 0.005, 0.0036, 0,
                  0, 0, 0, 0, 0, 0, 0, 0, 0, 0]
c2_qcd600_parD = [0.008, 0.014, 0.025, 0.036, 0.082, 0.13, 0.21, 0.38, 0.57, 0.84,
                  1.18, 1.63, 2.18, 2.85, 3.65, 4.45, 5.45, 6.45, 7.55, 8.45,
                  8.7, 8.3, 7.3, 5.95, 4.55, 3.35, 2.35, 1.55, 0.92, 0.53,
                  0.3, 0.17, 0.1, 0.075, 0.032, 0.022, 0.018, 0.012, 0.006, 0.0036,
                  0.0036, 0, 0, 0, 0, 0, 0, 0, 0, 0]
c2_qcd600_delphes = [0.034, 0.093, 0.25, 0.59, 1.2, 2.0, 3.4, 4.3, 5.2, 6.0,
                     6.7, 7.0, 7.2, 7.1, 6.8, 6.3, 5.6, 4.9, 4.2, 3.5,
                     2.9, 2.3, 1.8, 1.4, 1.04, 0.7, 0.47, 0.32, 0.22, 0.16,
                     0.067, 0.05, 0.045, 0.034, 0.0098, 0.004, 0, 0.0035, 0, 0,
                     0, 0, 0, 0, 0, 0, 0, 0, 0, 0]

# axis ranges per panel
pt_xlims = [(5.5, 104.5), (0.5, 209.5), (-32, 845), (-40, 945)]
pt_xticks = [[20, 40, 60, 80, 100], [50, 100, 150, 200], [0, 200, 400, 600, 800], [0, 200, 400, 600, 800]]
pt_ylims = [(8.4e-4, 5.6e-2), (1.95e-4, 2.67e-2), (8.8e-7, 1.25e-2), (1.26e-5, 1.37e-2)]
eta_ylims = [(0, 0.299), (0, 0.3435), (0, 0.387), (0, 0.426)]
phi_ylims = [(0.01, 0.5)] * 4
lnd2_ylims = [(3e-4, 1.0), (2e-4, 1.7), (1.8e-4, 0.91), (2e-4, 0.9)]
c2_ylims = [(3e-3, 84), (2.8e-3, 10.3), (2.5e-3, 12.7), (2.6e-3, 13.3)]

# ---------------- styling ----------------
cms_color = "tab:blue"
parF_color = "crimson"
parD_color = "purple"
delphes_color = "green"
label_font = ["cmr10", "DejaVu Sans"]

data = globals()


def get_series(var, sample):
    return [data[f"{var}_{sample}_{s}"] for s in ["cms", "parF", "parD", "delphes"]]


def draw_hist(ax, start, width, vals, pad, **kw):
    vals = np.asarray(vals, dtype=float)
    if pad:
        vals = np.concatenate([[0.0], vals, [0.0]])
        start = start - width
    edges = start + width * np.arange(len(vals) + 1)
    centers = 0.5 * (edges[:-1] + edges[1:])
    sns.histplot(x=list(centers), weights=list(vals), bins=list(edges), element="step", ax=ax, **kw)


def draw_panel(ax, start, width, series, pad=True):
    cms, parF, parD, delphes = series
    draw_hist(ax, start, width, cms, pad, fill=True, color=cms_color, alpha=0.3, linewidth=0)
    draw_hist(ax, start, width, parF, pad, fill=False, color=parF_color, linewidth=1.2)
    draw_hist(ax, start, width, parD, pad, fill=False, color=parD_color, linewidth=1.2)
    draw_hist(ax, start, width, delphes, pad, fill=False, color=delphes_color, linewidth=1.2,
              linestyle="--")


fig, axes = plt.subplots(4, 5, figsize=(13.16, 9.24), dpi=100)
fig.subplots_adjust(left=0.022, right=0.9455, bottom=0.0433, top=0.9657, wspace=0.1495, hspace=0.104)

xlabels = [r"Jet $p_T$", r"Jet $\eta$", r"Jet $\phi$", r"Jet $\ln D_2$", r"Jet $C_2$"]
xlabel_math = ["dejavusans", "cm", "cm", "dejavusans", "dejavusans"]

for r, sample in enumerate(samples):
    # pT
    ax = axes[r, 0]
    draw_panel(ax, pt_bin_start[r], pt_bin_width[r], get_series("pt", sample))
    ax.set_yscale("log")
    ax.set_xlim(*pt_xlims[r])
    ax.set_xticks(pt_xticks[r])
    ax.set_ylim(*pt_ylims[r])

    # eta
    ax = axes[r, 1]
    draw_panel(ax, eta_bin_start, eta_bin_width, get_series("eta", sample), pad=False)
    ax.set_xlim(-3.3, 3.3)
    ax.set_xticks([-3, -2, -1, 0, 1, 2, 3])
    ax.set_ylim(*eta_ylims[r])

    # phi
    ax = axes[r, 2]
    draw_panel(ax, phi_bin_start, phi_bin_width, get_series("phi", sample))
    ax.set_yscale("log")
    ax.set_xlim(-3.456, 3.456)
    ax.set_xticks([-3, -2, -1, 0, 1, 2, 3])
    ax.set_ylim(*phi_ylims[r])

    # ln D2
    ax = axes[r, 3]
    draw_panel(ax, lnd2_bin_start, lnd2_bin_width, get_series("lnd2", sample))
    ax.set_yscale("log")
    ax.set_xlim(-3.35, 4.35)
    ax.set_xticks([-2, 0, 2, 4])
    ax.set_ylim(*lnd2_ylims[r])

    # C2
    ax = axes[r, 4]
    draw_panel(ax, c2_bin_start, c2_bin_width, get_series("c2", sample))
    ax.set_yscale("log")
    ax.set_xlim(-0.025, 0.525)
    ax.set_xticks([0.0, 0.1, 0.2, 0.3, 0.4, 0.5])
    ax.set_ylim(*c2_ylims[r])

    for c in range(5):
        ax = axes[r, c]
        ax.set_ylabel("")
        ax.set_xlabel("")
        ax.yaxis.tick_right()
        ax.tick_params(axis="both", which="major", labelsize=5.7, length=3, width=0.6, pad=1.5)
        ax.tick_params(axis="both", which="minor", length=1.8, width=0.5)
        for sp in ax.spines.values():
            sp.set_linewidth(1.0)
            sp.set_color("#333333")
        if r == 3:
            ax.set_xlabel(xlabels[c], fontsize=12, family=label_font,
                          math_fontfamily=xlabel_math[c], labelpad=3)

    axes[r, 0].set_ylabel(row_labels[r], fontsize=12.5, family=label_font,
                          math_fontfamily="dejavusans", labelpad=2)
    axes[r, 4].yaxis.set_label_position("right")
    axes[r, 4].set_ylabel("a.u.", fontsize=12.5, family=label_font, labelpad=2)

handles = [
    Patch(facecolor=cms_color, alpha=0.3, edgecolor="none"),
    Patch(facecolor="none", edgecolor=parF_color, linewidth=1.2),
    Patch(facecolor="none", edgecolor=parD_color, linewidth=1.2),
    Patch(facecolor="none", edgecolor=delphes_color, linewidth=1.2, linestyle="--"),
]
fig.legend(handles, legend_labels, loc="upper center", bbox_to_anchor=(0.4837, 1.008), ncol=4,
           prop={"family": label_font, "size": 12}, frameon=True, columnspacing=2.2,
           handlelength=2.2, borderpad=0.35)

fig.savefig("out.png", dpi=100)
